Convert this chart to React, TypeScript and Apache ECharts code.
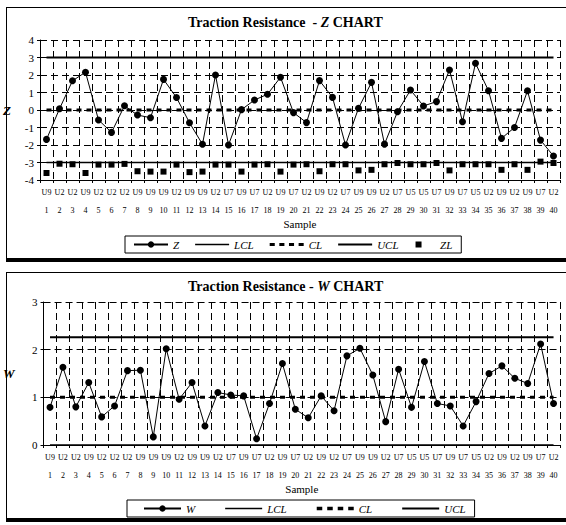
import React, { useEffect, useRef } from "react";
import * as echarts from "echarts";

const samples = ["1","2","3","4","5","6","7","8","9","10","11","12","13","14","15","16","17","18","19","20","21","22","23","24","25","26","27","28","29","30","31","32","33","34","35","36","37","38","39","40"];
const units = ["U9","U2","U2","U9","U2","U2","U2","U9","U9","U9","U2","U9","U9","U2","U7","U9","U7","U2","U9","U7","U2","U9","U2","U7","U9","U9","U2","U7","U5","U5","U7","U9","U7","U5","U2","U9","U2","U9","U7","U2"];

const zValues = [-1.68, 0.07, 1.67, 2.16, -0.57, -1.28, 0.24, -0.29, -0.44, 1.75, 0.71, -0.73, -1.96, 2.0, -2.0, 0.02, 0.57, 0.9, 1.87, -0.15, -0.72, 1.68, 0.72, -2.0, 0.1, 1.58, -1.95, -0.1, 1.14, 0.23, 0.48, 2.29, -0.67, 2.67, 1.1, -1.62, -1.0, 1.1, -1.72, -2.63];
const zlValues = [-3.6, -3.07, -3.1, -3.6, -3.12, -3.12, -3.08, -3.5, -3.52, -3.52, -3.12, -3.55, -3.52, -3.12, -3.12, -3.52, -3.12, -3.1, -3.52, -3.12, -3.1, -3.5, -3.1, -3.1, -3.45, -3.42, -3.1, -3.03, -3.1, -3.1, -3.03, -3.45, -3.1, -3.1, -3.1, -3.42, -3.1, -3.42, -2.95, -3.03];
const wValues = [0.79, 1.63, 0.8, 1.31, 0.59, 0.82, 1.56, 1.57, 0.17, 2.02, 0.96, 1.31, 0.4, 1.1, 1.05, 1.03, 0.13, 0.87, 1.71, 0.75, 0.57, 1.03, 0.72, 1.87, 2.03, 1.47, 0.49, 1.59, 0.79, 1.75, 0.87, 0.82, 0.4, 0.91, 1.5, 1.66, 1.4, 1.29, 2.12, 0.87];

const Z_LCL = -3;
const Z_CL = 0;
const Z_UCL = 3;
const W_LCL = 0;
const W_CL = 1;
const W_UCL = 2.26;

const zAxisMin = -4;
const zAxisMax = 4;
const wAxisMin = 0;
const wAxisMax = 3;

const SERIF = "Liberation Serif";
const SQUARE_ICON = "path://M0,0h0.01v0.01h-0.01z M0,8h0.01v0.01h-0.01z M1,1h6v6h-6z";
const THIN_LINE_ICON = "path://M0,0H34V1.5H0Z";
const THICK_LINE_ICON = "path://M0,0H34V2H0Z";
const DASH_ICON = "path://M0,0h5v3h-5z M9.5,0h5v3h-5z M19,0h5v3h-5z M28.5,0h5v3h-5z";

function constLine(v: number) {
  return samples.map(() => v);
}

function buildOption(o: {
  title: string;
  titleTop: number;
  yName: string;
  yMin: number;
  yMax: number;
  gridTop: number;
  gridHeight: number;
  legendLeft: number;
  legendTop: number;
  legendGap: number;
  legendItemWidth: number;
  legendPadding: number[];
  legendData: any[];
  series: any[];
}) {
  return {
    animation: false,
    title: {
      text: o.title,
      left: 188,
      top: o.titleTop,
      padding: 0,
      textStyle: {
        fontFamily: SERIF,
        fontSize: 14,
        fontWeight: "bold",
        color: "#000",
        rich: {
          a: { fontFamily: SERIF, fontSize: 14, fontWeight: "bold", color: "#000" },
          b: { fontFamily: SERIF, fontSize: 14, fontWeight: "bold", fontStyle: "italic", color: "#000" },
        },
      },
    },
    legend: {
      left: o.legendLeft,
      top: o.legendTop,
      orient: "horizontal",
      itemWidth: o.legendItemWidth,
      itemHeight: 8,
      itemGap: o.legendGap,
      padding: o.legendPadding,
      borderColor: "#000",
      borderWidth: 1,
      borderRadius: 0,
      textStyle: { fontFamily: SERIF, fontStyle: "italic", fontSize: 11, color: "#000" },
      data: o.legendData,
    },
    grid: { left: 40, width: 520, top: o.gridTop, height: o.gridHeight },
    xAxis: {
      type: "category",
      data: samples,
      boundaryGap: true,
      name: "Sample",
      nameLocation: "middle",
      nameGap: 36,
      nameTextStyle: { fontFamily: SERIF, fontSize: 11, color: "#000" },
      axisLine: { onZero: false, lineStyle: { color: "#000", width: 1 } },
      axisTick: { show: true, length: 3, lineStyle: { color: "#000" } },
      axisLabel: {
        interval: 0,
        margin: 3,
        fontFamily: SERIF,
        fontSize: 8,
        color: "#000",
        formatter: (v: string, i: number) => `{u|${units[i]}}\n{n|${v}}`,
        rich: {
          u: { fontFamily: SERIF, fontSize: 8, lineHeight: 18, color: "#000" },
          n: { fontFamily: SERIF, fontSize: 8, lineHeight: 18, color: "#000" },
        },
      },
      splitLine: { show: true, lineStyle: { type: [7, 4], color: "#000", width: 1 } },
    },
    yAxis: {
      type: "value",
      min: o.yMin,
      max: o.yMax,
      interval: 1,
      name: o.yName,
      nameLocation: "middle",
      nameGap: 29,
      nameRotate: 0,
      nameTextStyle: { fontFamily: SERIF, fontSize: 13, fontWeight: "bold", fontStyle: "italic", color: "#000" },
      axisLine: { show: true, lineStyle: { color: "#000", width: 1 } },
      axisTick: { show: true, length: 3, lineStyle: { color: "#000" } },
      axisLabel: { fontFamily: SERIF, fontSize: 11, color: "#000", margin: 6 },
      splitLine: { show: true, lineStyle: { type: [7, 4], color: "#000", width: 1 } },
    },
    series: o.series,
  };
}

function limitSeries(name: string, value: number, width: number, dashed: boolean) {
  return {
    name,
    type: "line",
    data: constLine(value),
    symbol: "none",
    showSymbol: false,
    lineStyle: { color: "#000", width, type: dashed ? [5, 5] : "solid" },
    itemStyle: { color: "#000" },
    z: 3,
  };
}

export default function App() {
  const topRef = useRef<HTMLDivElement>(null);
  const botRef = useRef<HTMLDivElement>(null);

  useEffect(() => {
    const c1 = echarts.init(topRef.current!, undefined, { renderer: "svg" });
    const c2 = echarts.init(botRef.current!, undefined, { renderer: "svg" });

    const limitLegend = [
      { name: "LCL", icon: THIN_LINE_ICON },
      { name: "CL", icon: DASH_ICON },
      { name: "UCL", icon: THICK_LINE_ICON },
    ];

    c1.setOption(
      buildOption({
        title: "{a|Traction Resistance  - }{b|Z}{a| CHART}",
        titleTop: 15,
        yName: "Z",
        yMin: zAxisMin,
        yMax: zAxisMax,
        gridTop: 40,
        gridHeight: 140,
        legendLeft: 125,
        legendTop: 236,
        legendGap: 16,
        legendItemWidth: 34,
        legendPadding: [3, 9, 3, 8],
        legendData: ["Z", ...limitLegend, { name: "ZL", icon: SQUARE_ICON }],
        series: [
          {
            name: "Z",
            type: "line",
            data: zValues,
            symbol: "circle",
            symbolSize: 7,
            lineStyle: { color: "#000", width: 1 },
            itemStyle: { color: "#000" },
            z: 5,
          },
          limitSeries("LCL", Z_LCL, 1.5, false),
          limitSeries("CL", Z_CL, 3, true),
          limitSeries("UCL", Z_UCL, 2, false),
          {
            name: "ZL",
            type: "scatter",
            data: zlValues,
            symbol: "rect",
            symbolSize: 6,
            itemStyle: { color: "#000", opacity: 1 },
            z: 4,
          },
        ],
      })
    );

    c2.setOption(
      buildOption({
        title: "{a|Traction Resistance - }{b|W}{a| CHART}",
        titleTop: 11,
        yName: "W",
        yMin: wAxisMin,
        yMax: wAxisMax,
        gridTop: 34,
        gridHeight: 143,
        legendLeft: 127,
        legendTop: 232,
        legendGap: 30,
        legendItemWidth: 37,
        legendPadding: [3, 9, 3, 16],
        legendData: ["W", ...limitLegend],
        series: [
          {
            name: "W",
            type: "line",
            data: wValues,
            symbol: "circle",
            symbolSize: 7,
            lineStyle: { color: "#000", width: 1 },
            itemStyle: { color: "#000" },
            z: 5,
          },
          limitSeries("LCL", W_LCL, 1.5, false),
          limitSeries("CL", W_CL, 3, true),
          limitSeries("UCL", W_UCL, 2, false),
        ],
      })
    );

    return () => {
      c1.dispose();
      c2.dispose();
    };
  }, []);

  const box = (top: number, height: number): React.CSSProperties => ({
    position: "absolute",
    left: 6,
    top,
    width: 600,
    height,
    border: "1px solid #000",
    boxShadow: "0 3px 0 #000",
    boxSizing: "border-box",
  });

  return (
    <div style={{ position: "fixed", left: 0, top: 0, width: 566, height: 525, overflow: "hidden", background: "#fff" }}>
      <div style={box(7, 252)} />
      <div style={box(272, 247)} />
      <div ref={topRef} style={{ position: "absolute", left: 0, top: 0, width: 566, height: 268 }} />
      <div ref={botRef} style={{ position: "absolute", left: 0, top: 268, width: 566, height: 257 }} />
    </div>
  );
}
